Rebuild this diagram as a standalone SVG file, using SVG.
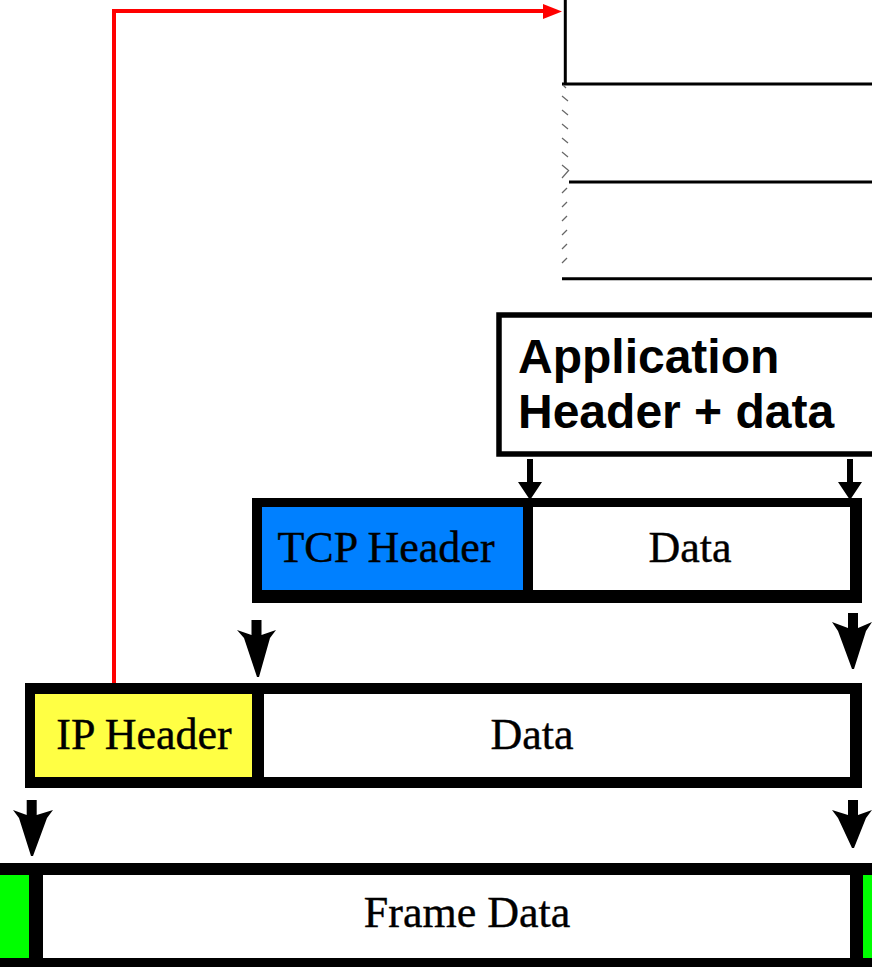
<svg xmlns="http://www.w3.org/2000/svg" width="872" height="967" viewBox="0 0 872 967">
  <defs>
    <style>
      .serif { font-family: "Liberation Serif", "Times New Roman", serif; font-size: 44px; fill: #000; text-anchor: middle; stroke: #000; stroke-width: 0.4; }
      .sans { font-family: "Liberation Sans", Arial, sans-serif; font-size: 48px; font-weight: bold; fill: #000; }
      .rule { stroke: #000; stroke-width: 3; fill: none; }
      .hatch { stroke: #666; stroke-width: 1.2; fill: none; }
      .red { stroke: #ff0000; stroke-width: 4; fill: none; }
      .arrow { fill: #000; }
    </style>
  </defs>
  <rect x="0" y="0" width="872" height="967" fill="#fff"/>

  <!-- stacked layer table, top right -->
  <g id="layer-table">
    <line class="rule" x1="565.3" y1="0" x2="565.3" y2="84"/>
    <line class="rule" x1="562" y1="84" x2="872" y2="84"/>
    <line class="rule" x1="569" y1="182" x2="872" y2="182"/>
    <line class="rule" x1="562" y1="278.7" x2="872" y2="278.7"/>
    <g class="hatch">
      <line x1="563" y1="85" x2="566" y2="88"/>
      <line x1="562" y1="96" x2="568" y2="101"/>
      <line x1="562" y1="110" x2="568" y2="115"/>
      <line x1="562" y1="124" x2="568" y2="129"/>
      <line x1="562" y1="138" x2="568" y2="143"/>
      <line x1="562" y1="152" x2="568" y2="157"/>
      <line x1="562" y1="165" x2="568" y2="170"/>
      <line x1="562" y1="178" x2="569" y2="170"/>
      <line x1="562" y1="193" x2="567" y2="188"/>
      <line x1="562" y1="207" x2="567" y2="202"/>
      <line x1="562" y1="221" x2="567" y2="216"/>
      <line x1="562" y1="235" x2="567" y2="230"/>
      <line x1="562" y1="249" x2="567" y2="244"/>
      <line x1="562" y1="263" x2="567" y2="258"/>
    </g>
  </g>

  <!-- application header + data -->
  <g id="app-box">
    <rect x="499" y="315" width="420" height="139" fill="#fff" stroke="#000" stroke-width="5.5"/>
    <text class="sans" x="518" y="373">Application</text>
    <text class="sans" x="518" y="428">Header + data</text>
  </g>

  <!-- TCP segment -->
  <g id="tcp-segment">
    <rect x="252" y="498" width="610" height="105" fill="#000"/>
    <rect x="262" y="507" width="261" height="83" fill="#0080ff"/>
    <rect x="533" y="507" width="317" height="83" fill="#fff"/>
    <text class="serif" x="386" y="562">TCP Header</text>
    <text class="serif" x="690" y="562">Data</text>
  </g>

  <!-- IP packet -->
  <g id="ip-packet">
    <rect x="25" y="683" width="837" height="105" fill="#000"/>
    <rect x="35" y="694" width="217" height="83" fill="#ffff44"/>
    <rect x="264" y="694" width="586" height="83" fill="#fff"/>
    <text class="serif" x="144" y="749">IP Header</text>
    <text class="serif" x="532" y="749">Data</text>
  </g>

  <!-- frame -->
  <g id="frame">
    <rect x="0" y="863" width="872" height="104" fill="#000"/>
    <rect x="0" y="875" width="29" height="83" fill="#00ff00"/>
    <rect x="43" y="875" width="807" height="83" fill="#fff"/>
    <rect x="863" y="875" width="9" height="83" fill="#00ff00"/>
    <text class="serif" x="467" y="927">Frame Data</text>
  </g>

  <!-- connectors -->
  <g id="connectors">
    <!-- red link from IP header to the layer table -->
    <polyline class="red" points="114,683 114,11 546,11"/>
    <polygon fill="#ff0000" points="543,4 562,11.5 543,19"/>

    <!-- application box to TCP segment -->
    <g class="arrow">
      <polygon points="527,459 533,459 533,482 542,482 530,500 518,482 527,482"/>
      <polygon points="847,459 853,459 853,482 862,482 850,500 838,482 847,482"/>
    </g>

    <!-- TCP segment to IP packet -->
    <g class="arrow">
      <polygon points="251.5,620 261.5,620 261.5,635 276,630 270,638 259,677 257,677 244,638 237,630 251.5,635"/>
      <polygon points="848,613 858,613 858,628 872,622 866,631 854,669 852,669 838,631 832,622 848,628"/>
    </g>

    <!-- IP packet to frame -->
    <g class="arrow">
      <polygon points="26.7,800 36.7,800 36.7,815 53,810 47,818 33,856 31,856 19,818 13,810 26.7,815"/>
      <polygon points="848,800 858,800 858,815 872,810 866,818 854,848 852,848 838,818 832,810 848,815"/>
    </g>
  </g>
</svg>
